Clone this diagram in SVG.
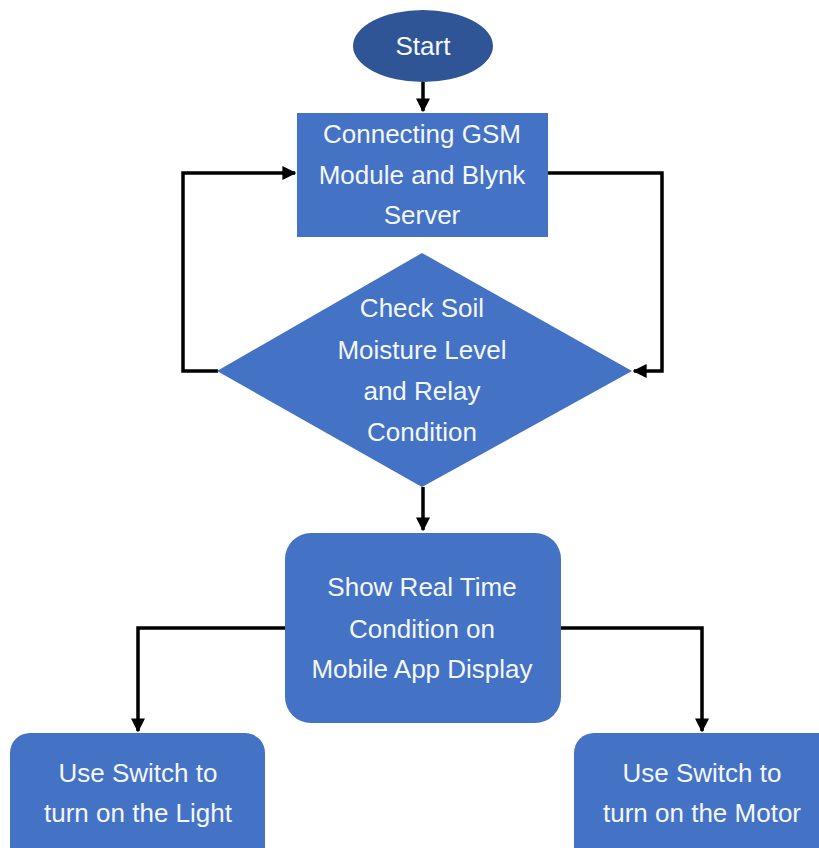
<svg xmlns="http://www.w3.org/2000/svg" width="819" height="848" viewBox="0 0 819 848">
<style>
.n{fill:#4472C4;}
.s{fill:#2F5597;}
.t{font-family:"Liberation Sans",Arial,sans-serif;font-size:26px;fill:#F4F7FF;text-anchor:middle;dominant-baseline:central;}
.c{fill:none;stroke:#000;stroke-width:3.5;}
</style>
<defs>
<marker id="a" viewBox="0 0 10 10" refX="9" refY="5" markerWidth="4" markerHeight="4" orient="auto" markerUnits="strokeWidth">
<path d="M0,0 L10,5 L0,10 z" fill="#000"/>
</marker>
</defs>
<rect width="819" height="848" fill="#fff"/>
<g id="connectors">
<path class="c" d="M423,82 V111" marker-end="url(#a)"/>
<path class="c" d="M218,371 H183 V173 H295" marker-end="url(#a)"/>
<path class="c" d="M548,173 H662 V371 H634" marker-end="url(#a)"/>
<path class="c" d="M423,487 V530" marker-end="url(#a)"/>
<path class="c" d="M285,628 H138 V731" marker-end="url(#a)"/>
<path class="c" d="M561,628 H702 V731" marker-end="url(#a)"/>
</g>
<g id="start">
<ellipse class="s" cx="423" cy="46" rx="70" ry="36"/>
<text class="t" x="423" y="46">Start</text>
</g>
<g id="connect">
<rect class="n" x="297" y="113" width="251" height="124"/>
<text class="t" x="422" y="134">Connecting GSM</text>
<text class="t" x="422" y="175">Module and Blynk</text>
<text class="t" x="422" y="215">Server</text>
</g>
<g id="check">
<polygon class="n" points="422,253 632,371 422,487 217,371"/>
<text class="t" x="422" y="308">Check Soil</text>
<text class="t" x="422" y="350">Moisture Level</text>
<text class="t" x="422" y="391">and Relay</text>
<text class="t" x="422" y="432">Condition</text>
</g>
<g id="show">
<rect class="n" x="285" y="533" width="276" height="190" rx="26"/>
<text class="t" x="422" y="587">Show Real Time</text>
<text class="t" x="422" y="629">Condition on</text>
<text class="t" x="422" y="669">Mobile App Display</text>
</g>
<g id="light">
<rect class="n" x="10" y="733" width="255" height="140" rx="20"/>
<text class="t" x="138" y="773">Use Switch to</text>
<text class="t" x="138" y="813">turn on the Light</text>
</g>
<g id="motor">
<rect class="n" x="574" y="733" width="265" height="140" rx="20"/>
<text class="t" x="702" y="773">Use Switch to</text>
<text class="t" x="702" y="813">turn on the Motor</text>
</g>
</svg>
